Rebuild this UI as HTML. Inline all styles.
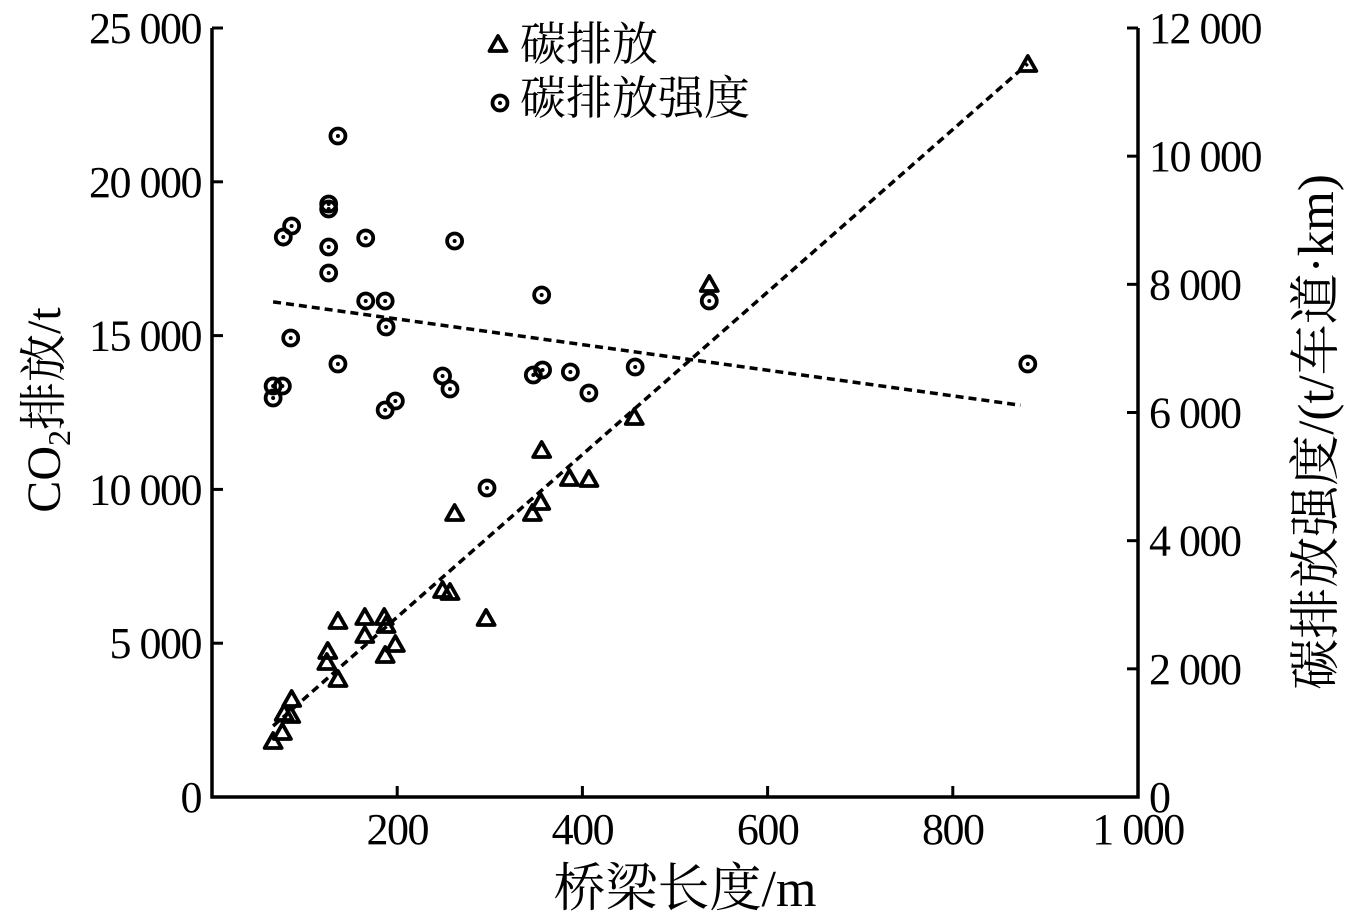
<!DOCTYPE html>
<html><head><meta charset="utf-8">
<style>
html,body{margin:0;padding:0;background:#fff;}
svg{display:block;}
text{font-family:"Liberation Serif","Noto Serif CJK SC","Noto Sans CJK SC",serif;fill:#000;}
.tick{font-size:44px;letter-spacing:-1.5px;}
</style></head>
<body>
<svg id="chart" width="1348" height="920" viewBox="0 0 1348 920"></svg>
<script>
const xTicks=[200,400,600,800,1000];
const xTickLabels=["200","400","600","800","1 000"];
const yLeftTicks=[0,5000,10000,15000,20000,25000];
const yLeftLabels=["0","5 000","10 000","15 000","20 000","25 000"];
const yRightTicks=[0,2000,4000,6000,8000,10000,12000];
const yRightLabels=["0","2 000","4 000","6 000","8 000","10 000","12 000"];
const emisLen=[66,76,78,85,86,125,124,136,136,165,165,186,188,187,198,249,257,262,296,346,355,356,386,407,456,537,881];
const emisVal=[1788,2081,2699,2633,3153,4714,4356,3804,5689,5819,5234,5819,5559,4584,4941,6697,6632,9200,5787,9200,9558,11248,10338,10306,12321,16645,23797];
const intLen=[66,66,76,77,86,85,126,126,126,126,136,136,166,166,187,188,187,198,249,257,262,297,347,357,356,387,407,457,537,881];
const intVal=[6226,6413,6413,8738,8910,7162,8177,8582,9253,9176,6757,10315,8723,7740,7740,7334,6039,6179,6570,6367,8676,4822,6585,6663,7834,6632,6304,6710,7740,6757];

const L=212,R=1138,T=28,B=797;
const sx=v=>L+(R-L)*v/1000;
const syL=v=>B-(B-T)*v/25000;
const syR=v=>B-(B-T)*v/12000;
const svg=document.getElementById('chart');
const NS='http://www.w3.org/2000/svg';
function mk(tag,attrs,parent){const e=document.createElementNS(NS,tag);for(const k in attrs)e.setAttribute(k,attrs[k]);(parent||svg).appendChild(e);return e;}

let ax=mk('path',{d:`M${L},${T}V${B}H${R}V${T}`,fill:'none',stroke:'#000','stroke-width':3.5});



xTicks.forEach((v,i)=>{
  let t=mk('line',{x1:sx(v),x2:sx(v),y1:B,y2:B-11,stroke:'#000','stroke-width':3});
  
  
  let tx=mk('text',{x:sx(v),y:B+47,'text-anchor':'middle','class':'tick'});
  tx.textContent=xTickLabels[i];
  
  
});
yLeftTicks.forEach((v,i)=>{
  let t=mk('line',{x1:L,x2:L+11,y1:syL(v),y2:syL(v),stroke:'#000','stroke-width':3});
  
  
  let tx=mk('text',{x:201,y:syL(v)+15,'text-anchor':'end','class':'tick'});
  tx.textContent=yLeftLabels[i];
  
  
});
yRightTicks.forEach((v,i)=>{
  let t=mk('line',{x1:R,x2:R-11,y1:syR(v),y2:syR(v),stroke:'#000','stroke-width':3});
  
  
  let tx=mk('text',{x:1149,y:syR(v)+15,'text-anchor':'start','class':'tick'});
  tx.textContent=yRightLabels[i];
  
  
});

let xt=mk('text',{x:685,y:906,'text-anchor':'middle','font-size':52});
xt.textContent='桥梁长度/m';


let yt=mk('text',{transform:'translate(60,410) rotate(-90)','text-anchor':'middle','font-size':48});
yt.innerHTML='CO<tspan font-size="32" dy="10">2</tspan><tspan dy="-10">排放/t</tspan>';


let yr=mk('text',{transform:'translate(1333,432) rotate(-90)','text-anchor':'middle','font-size':51});
yr.textContent='碳排放强度/(t/车道·km)';



function fit(xs,ys){const n=xs.length;let mx=0,my=0;for(let i=0;i<n;i++){mx+=xs[i];my+=ys[i];}mx/=n;my/=n;let a=0,b=0;for(let i=0;i<n;i++){a+=(xs[i]-mx)*(ys[i]-my);b+=(xs[i]-mx)**2;}const k=a/b;return [k,my-k*mx];}
function trend(xs,ys,sy,name,endTrim){const [k,c]=fit(xs,ys);const x0=Math.min(...xs),x1=Math.max(...xs)-endTrim;
  let l=mk('line',{x1:sx(x0),y1:sy(k*x0+c),x2:sx(x1),y2:sy(k*x1+c),stroke:'#000','stroke-width':3.5,'stroke-dasharray':'8,5'});
  
  }
trend(emisLen,emisVal,syL,'emission-trend-line',0);
trend(intLen,intVal,syR,'intensity-trend-line',8);

function tri(x,y,name){let p=mk('path',{d:`M${x},${y-9}L${x+8.5},${y+6}L${x-8.5},${y+6}Z`,fill:'none',stroke:'#000','stroke-width':3.8,'stroke-linejoin':'round'});
  
  }
function circ(x,y,name){let g=mk('g',{});
  
  
  mk('circle',{cx:x,cy:y,r:7.5,fill:'none',stroke:'#000','stroke-width':3.8},g);
  mk('circle',{cx:x,cy:y,r:2,fill:'#000'},g);}

emisLen.forEach((v,i)=>tri(sx(v),syL(emisVal[i]),'emission-point'));
intLen.forEach((v,i)=>circ(sx(v),syR(intVal[i]),'intensity-point'));

tri(498,45,'legend-emission-marker');
let l1=mk('text',{x:520,y:60,'font-size':46});
l1.textContent='碳排放';


circ(500,103,'legend-intensity-marker');
let l2=mk('text',{x:520,y:114,'font-size':46});
l2.textContent='碳排放强度';


</script>
</body></html>
